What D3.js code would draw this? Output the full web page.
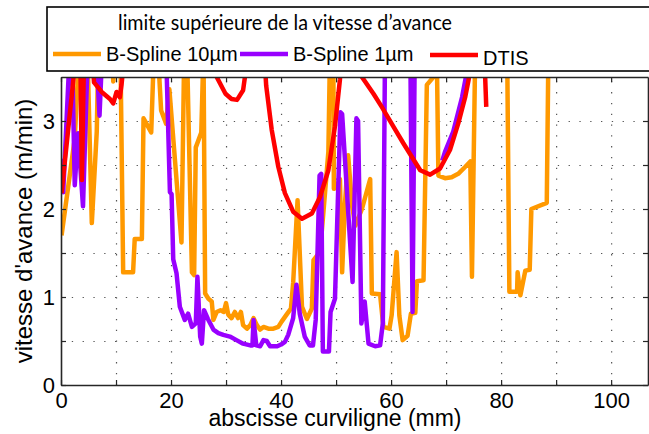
<!DOCTYPE html>
<html>
<head>
<meta charset="utf-8">
<script src="https://cdn.jsdelivr.net/npm/d3@7"></script>
<style>
  body { margin: 0; background: #fff; }
  svg { display: block; }
  .tick text { font-family: "Liberation Sans", Arial, sans-serif; font-size: 22px; fill: #000; }
</style>
</head>
<body>
<svg id="chart" width="649" height="434"></svg>
<script>

// ================= data (mm, m/min) =================
// 3.8 = above the axis limit, clipped off the top like the original
var bspline10 = [[0.1,1.70],[2.5,2.80],[3.3,3.8],[4.8,3.8],[5.6,1.84],[6.5,2.88],[6.8,3.8],[9.3,3.8],[9.5,3.45],[9.8,3.8],
  [10.8,3.8],[11.3,1.28],[13.1,1.28],[13.4,1.66],[14.7,1.66],[15.0,3.03],[16.4,2.87],[16.9,3.8],[17.6,3.8],[18.2,3.12],
  [19.1,2.97],[19.7,3.36],[21.9,1.62],[22.4,3.8],[22.9,3.8],[23.8,1.28],[24.2,1.25],[24.5,2.70],[25.5,2.87],[25.9,3.8],
  [26.2,1.04],[26.8,0.98],[27.4,0.95],[27.7,0.74],[28.3,0.83],[29.0,0.85],[29.6,0.83],[30.0,0.93],[30.4,0.80],[31.0,0.76],
  [31.6,0.83],[32.2,0.76],[32.7,0.83],[33.1,0.68],[33.8,0.64],[34.4,0.68],[35.0,0.76],[35.6,0.68],[36.2,0.63],[36.8,0.66],
  [37.7,0.64],[38.6,0.64],[39.5,0.66],[40.1,0.72],[41.0,0.80],[41.8,0.87],[42.2,1.16],[43.0,2.10],[43.8,0.89],[44.7,0.75],
  [45.6,0.87],[45.9,1.42],[46.8,1.49],[47.4,1.74],[48.0,2.19],[48.6,2.65],[48.9,3.8],[49.5,3.8],[49.6,2.23],[50.1,2.25],
  [50.7,2.34],[51.1,1.28],[51.6,2.04],[52.2,2.61],[52.9,2.04],[53.5,1.81],[54.7,2.00],[56.2,2.34],[56.5,1.04],[58.0,1.03],
  [58.6,0.66],[59.7,0.64],[60.1,0.79],[61.0,1.51],[61.5,0.79],[62.1,0.51],[63.0,0.56],[63.6,0.81],[64.4,0.82],[64.7,1.18],
  [65.9,1.19],[66.5,3.41],[67.7,3.50],[68.0,3.8],[68.3,3.8],[68.6,2.38],[69.8,2.35],[71.0,2.36],[72.2,2.40],[73.5,2.48],
  [74.4,2.54],[74.7,1.23],[75.3,3.8],[81.1,3.8],[81.5,1.06],[82.9,1.06],[83.0,1.28],[83.5,1.02],[84.4,1.30],[85.2,1.31],
  [85.5,2.00],[88.3,2.07],[88.6,3.8]];

var bspline1 = [[0.1,2.57],[0.4,2.19],[1.6,3.8],[2.0,3.8],[2.5,2.27],[3.1,2.86],[4.0,2.03],[4.6,3.24],[4.9,3.8],[6.4,3.8],
  [7.0,3.06],[7.5,3.8],[19.1,3.8],[19.8,2.19],[20.1,2.17],[20.4,1.43],[21.0,1.27],[21.6,0.89],[22.5,0.74],[23.1,0.81],
  [23.8,0.66],[24.5,0.70],[24.8,1.23],[25.3,0.55],[25.6,0.47],[26.0,0.85],[26.7,0.75],[27.7,0.63],[28.6,0.59],[29.5,0.57],
  [30.7,0.55],[31.9,0.51],[33.1,0.47],[34.4,0.45],[34.8,0.45],[35.0,0.74],[35.5,0.45],[36.2,0.44],[36.8,0.51],[37.4,0.50],
  [38.0,0.44],[39.3,0.44],[40.0,0.46],[40.7,0.49],[41.3,0.57],[42.2,0.76],[42.8,1.14],[43.4,0.81],[44.3,0.55],[45.2,0.45],
  [45.8,0.45],[46.3,0.74],[47.0,2.38],[47.3,2.40],[47.6,0.38],[48.7,0.38],[49.0,0.83],[49.8,0.98],[50.8,3.10],[51.1,3.08],
  [53.0,1.17],[53.7,3.03],[54.0,3.00],[54.6,0.70],[55.2,0.95],[55.9,0.47],[57.1,0.44],[58.0,0.45],[58.5,0.70],[58.9,3.8],
  [63.5,3.8],[63.9,0.83],[64.3,3.8],[null,null],
  [69.3,2.55],[69.8,2.65],[71.3,2.88],[72.9,3.27],[73.6,3.5],[73.9,3.8]];

var dtis = [[0.1,2.18],[2.8,3.8],[3.5,3.8],[3.8,2.33],[4.2,3.8],[5.6,3.8],[6.0,3.44],[7.4,3.33],[8.9,3.25],[9.5,3.20],
  [10.1,3.33],[10.7,3.27],[11.0,3.41],[11.6,3.8],[28.0,3.8],[28.3,3.5],[29.9,3.31],[31.0,3.25],[32.0,3.24],[33.1,3.35],
  [34.1,3.8],[36.9,3.8],[37.3,3.4],[38.3,2.90],[39.5,2.48],[40.7,2.18],[42.2,1.97],[43.8,1.89],[45.6,1.95],[47.1,2.14],
  [48.6,2.44],[49.8,2.94],[50.7,3.47],[51.0,3.8],[54.5,3.8],[54.7,3.5],[56.8,3.31],[58.3,3.16],[60.4,2.94],[62.2,2.75],
  [64.1,2.56],[65.3,2.44],[67.1,2.39],[68.9,2.46],[70.7,2.67],[72.2,2.97],[73.5,3.28],[74.1,3.47],[74.4,3.8],[77.0,3.8],
  [77.1,3.5],[77.3,3.16]];

var seriesNames = ["B-Spline 10\u00b5m", "B-Spline 1\u00b5m", "DTIS"];
var xTicks = [0,10,20,30,40,50,60,70,80,90,100];
var yTicks = [0,0.5,1,1.5,2,2.5,3];

// ================= layout =================
var plotL = 61, plotR = 648, plotT = 77, plotB = 385;
var svg = d3.select("#chart");
var font = "'Liberation Sans', Arial, sans-serif";

var x = d3.scaleLinear().domain([0, 106.7]).range([plotL, plotR]);
var y = d3.scaleLinear().domain([0, 3.5]).range([plotB, plotT]);

var color = d3.scaleOrdinal()
  .domain(seriesNames)
  .range(["#ff9900", "#9900ff", "#ff0000"]);

svg.append("clipPath").attr("id", "plotclip")
  .append("rect")
  .attr("x", plotL).attr("y", plotT)
  .attr("width", plotR - plotL).attr("height", plotB - plotT);

// ================= grid (dotted) =================
svg.append("g")
  .attr("class", "grid")
  .attr("transform", "translate(0," + plotB + ")")
  .call(d3.axisBottom(x).tickValues(xTicks.slice(1)).tickSize(-(plotB - plotT)).tickFormat(""))
  .call(function(g){ g.select(".domain").remove(); });

svg.append("g")
  .attr("class", "grid")
  .attr("transform", "translate(" + plotL + ",0)")
  .call(d3.axisLeft(y).tickValues(yTicks.slice(1)).tickSize(-(plotR - plotL)).tickFormat(""))
  .call(function(g){ g.select(".domain").remove(); });

svg.selectAll(".grid line")
  .attr("stroke", "#555")
  .attr("stroke-width", 1.2)
  .attr("stroke-dasharray", "1.3,9.5");

// ================= lines =================
var line = d3.line()
  .defined(function(d){ return d[0] !== null; })
  .x(function(d){ return x(d[0]); })
  .y(function(d){ return y(d[1]); });

var plot = svg.append("g").attr("clip-path", "url(#plotclip)");

[bspline10, bspline1, dtis].forEach(function(s, i){
  plot.append("path")
    .attr("d", line(s))
    .attr("fill", "none")
    .attr("stroke", color(seriesNames[i]))
    .attr("stroke-width", 4.5)
    .attr("stroke-linejoin", "round");
});

// ================= axes (box with inward ticks) =================
var axisCol = "#262626";

var axes = svg.append("g").attr("class", "axes");

axes.append("g")
  .attr("transform", "translate(0," + plotB + ")")
  .call(d3.axisBottom(x).tickValues(xTicks).tickSizeInner(-5).tickSizeOuter(0).tickPadding(7)
    .tickFormat(function(d){ return d % 20 === 0 ? d : ""; }));

axes.append("g")
  .attr("transform", "translate(0," + plotT + ")")
  .call(d3.axisTop(x).tickValues(xTicks).tickSizeInner(-5).tickSizeOuter(0).tickFormat(""));

axes.append("g")
  .attr("transform", "translate(" + plotL + ",0)")
  .call(d3.axisLeft(y).tickValues(yTicks).tickSizeInner(-5).tickSizeOuter(0).tickPadding(6)
    .tickFormat(function(d){ return d % 1 === 0 ? d : ""; }));

axes.append("g")
  .attr("transform", "translate(" + plotR + ",0)")
  .call(d3.axisRight(y).tickValues(yTicks).tickSizeInner(-5).tickSizeOuter(0).tickFormat(""));

axes.selectAll(".domain").attr("stroke", axisCol).attr("stroke-width", 1.6);
axes.selectAll(".tick line").attr("stroke", axisCol).attr("stroke-width", 1.2);

// axis titles
svg.append("text")
  .attr("x", 335).attr("y", 426)
  .attr("text-anchor", "middle")
  .style("font-family", font).style("font-size", "23px")
  .text("abscisse curviligne (mm)");

svg.append("text")
  .attr("transform", "translate(32," + ((plotT + plotB) / 2) + ") rotate(-90)")
  .attr("text-anchor", "middle")
  .style("font-family", font).style("font-size", "24px")
  .text("vitesse d'avance (m/min)");

// ================= legend =================
var legend = svg.append("g").attr("class", "legend");

legend.append("rect")
  .attr("x", 47).attr("y", 7)
  .attr("width", 640).attr("height", 64)
  .attr("fill", "#fff")
  .attr("stroke", "#000").attr("stroke-width", 1.6);

legend.append("text")
  .attr("x", 285).attr("y", 30)
  .attr("text-anchor", "middle")
  .attr("textLength", 334)
  .attr("lengthAdjust", "spacingAndGlyphs")
  .style("font-family", "Lato, sans-serif").style("font-size", "22px")
  .text("limite sup\u00e9rieure de la vitesse d\u2019avance");

var legX = [53, 240, 430];
var legY = [54, 54, 55];
var txtY = [61, 61, 65];

legend.selectAll("line.key")
  .data(seriesNames)
  .enter()
  .append("line")
  .attr("class", "key")
  .attr("x1", function(d, i){ return legX[i]; })
  .attr("x2", function(d, i){ return legX[i] + 48; })
  .attr("y1", function(d, i){ return legY[i]; })
  .attr("y2", function(d, i){ return legY[i]; })
  .attr("stroke", function(d){ return color(d); })
  .attr("stroke-width", 4.5);

legend.selectAll("text.key")
  .data(seriesNames)
  .enter()
  .append("text")
  .attr("class", "key")
  .attr("x", function(d, i){ return legX[i] + 53; })
  .attr("y", function(d, i){ return txtY[i]; })
  .style("font-family", font).style("font-size", "20px")
  .text(function(d){ return d; });

</script>
</body>
</html>
